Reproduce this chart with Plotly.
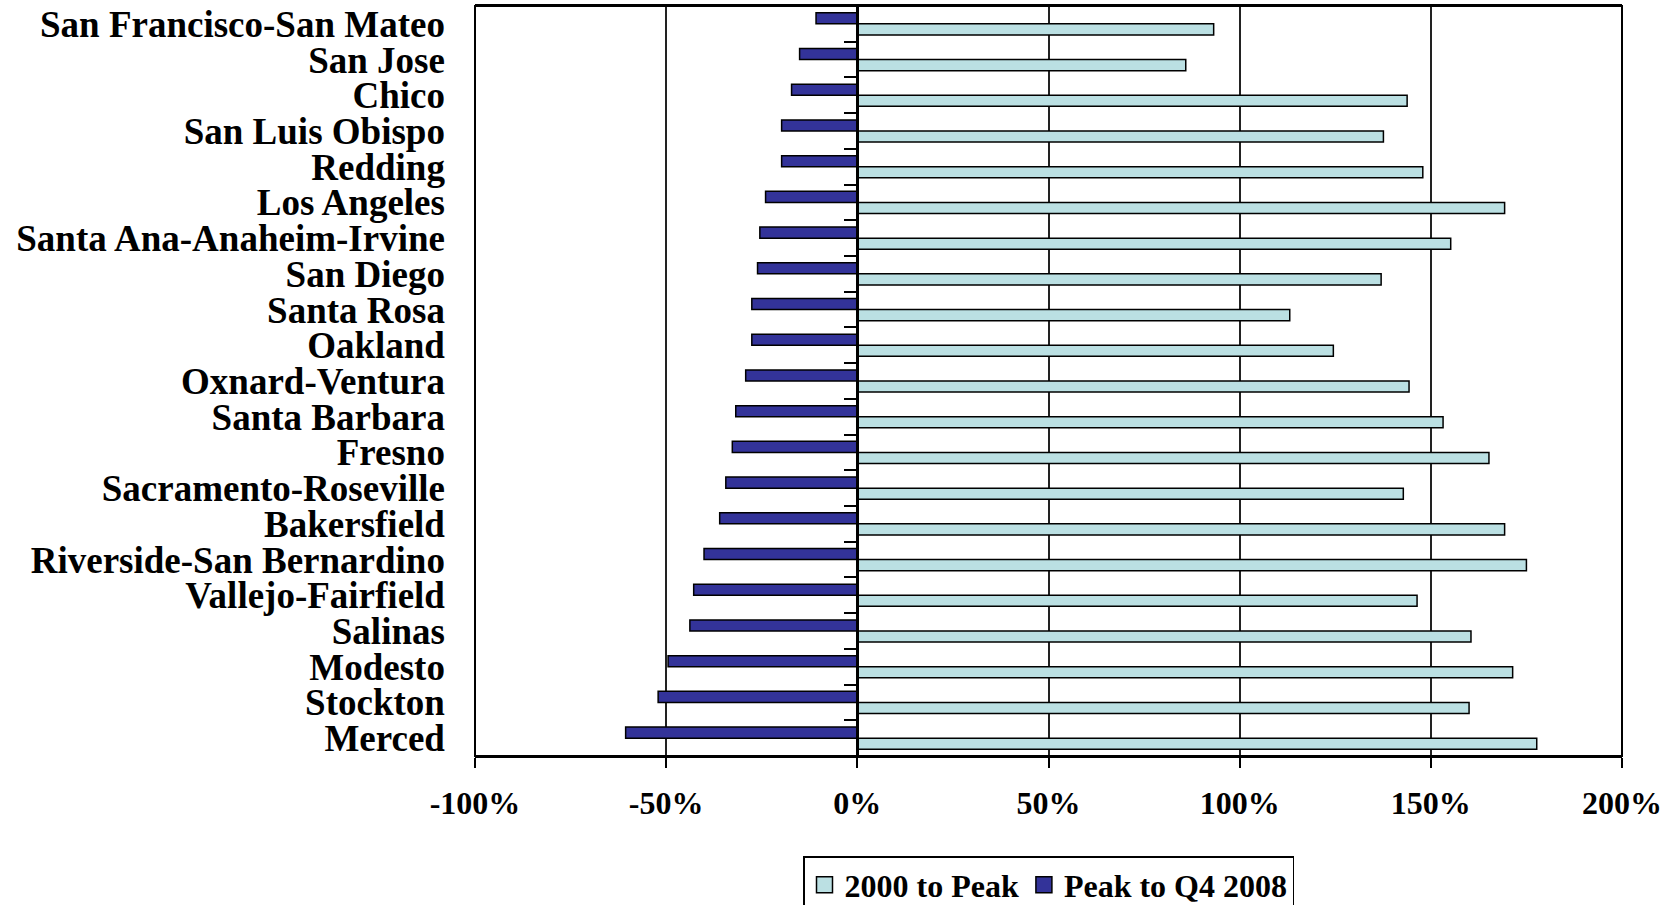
import plotly.graph_objects as go

# Metro areas, listed top to bottom
metros = [
    "San Francisco-San Mateo", "San Jose", "Chico", "San Luis Obispo", "Redding",
    "Los Angeles", "Santa Ana-Anaheim-Irvine", "San Diego", "Santa Rosa", "Oakland",
    "Oxnard-Ventura", "Santa Barbara", "Fresno", "Sacramento-Roseville", "Bakersfield",
    "Riverside-San Bernardino", "Vallejo-Fairfield", "Salinas", "Modesto", "Stockton",
    "Merced",
]

# Home price change, percent
rise_2000_to_peak = [
    93.2, 85.9, 143.8, 137.6, 147.9,
    169.3, 155.2, 137.0, 113.1, 124.5,
    144.3, 153.2, 165.2, 142.8, 169.3,
    175.0, 146.4, 160.5, 171.4, 160.0,
    177.7,
]
fall_peak_to_q4_2008 = [
    -10.8, -15.1, -17.2, -19.8, -19.8,
    -24.0, -25.5, -26.1, -27.6, -27.6,
    -29.2, -31.8, -32.7, -34.4, -36.0,
    -40.1, -42.8, -43.8, -49.5, -52.1,
    -60.6,
]

series_names = ["2000 to Peak", "Peak to Q4 2008"]
x_tickvals = [-100, -50, 0, 50, 100, 150, 200]
x_ticktext = ["-100%", "-50%", "0%", "50%", "100%", "150%", "200%"]

LIGHT = "#BBE0E3"
DARK = "#333399"
SERIF = "Liberation Serif, Times New Roman, serif"
LABEL_FONT = dict(family=SERIF, size=37, color="black", weight="bold")
TICK_FONT = dict(family=SERIF, size=32, color="black", weight="bold")

x_range = [x_tickvals[0], x_tickvals[-1]]
n = len(metros)

fig = go.Figure()
for name, vals, color in [(series_names[0], rise_2000_to_peak, LIGHT),
                          (series_names[1], fall_peak_to_q4_2008, DARK)]:
    fig.add_trace(go.Bar(
        name=name, y=metros, x=vals, orientation="h", showlegend=False,
        marker=dict(color=color, line=dict(color="black", width=1.5)),
    ))
# legend keys drawn as larger outlined squares
for name, color in [(series_names[0], LIGHT), (series_names[1], DARK)]:
    fig.add_trace(go.Scatter(
        name=name, x=[None], y=[None], mode="markers", hoverinfo="skip",
        marker=dict(symbol="square", size=16, color=color,
                    line=dict(color="black", width=1.5)),
    ))

# fraction of the plot width where the zero line sits
zero_pos = (0 - x_range[0]) / (x_range[1] - x_range[0])

fig.update_layout(
    width=1678, height=905,
    margin=dict(l=475, r=56, t=6, b=149, autoexpand=False),
    paper_bgcolor="white", plot_bgcolor="white",
    barmode="group", bargap=0.38, bargroupgap=0,
    showlegend=True,
    legend=dict(
        orientation="h", xref="paper", x=0.5, xanchor="center",
        yref="container", y=1 - 856 / 905, yanchor="top",
        font=TICK_FONT, bgcolor="white", bordercolor="black", borderwidth=1.5,
        itemwidth=30, itemsizing="trace", tracegroupgap=0,
    ),
    xaxis=dict(
        range=x_range, tickvals=x_tickvals, ticktext=x_ticktext,
        tickfont=TICK_FONT, ticks="outside", ticklen=10, tickwidth=2, tickcolor="black",
        ticklabelstandoff=8,
        showgrid=True, gridcolor="#222222", gridwidth=2,
        zeroline=True, zerolinecolor="black", zerolinewidth=3,
        showline=True, linecolor="black", linewidth=2, mirror=True,
        automargin=False, fixedrange=True,
    ),
    # category axis sits on the zero line; its labels are pushed out to the left
    yaxis=dict(
        type="category", categoryorder="array", categoryarray=metros[::-1],
        range=[-0.5, n - 0.5], tickmode="linear", tick0=0, dtick=1,
        anchor="free", position=zero_pos, side="left",
        tickfont=LABEL_FONT, ticks="outside", ticklen=12, tickwidth=2,
        tickcolor="black", tickson="boundaries", ticklabelstandoff=404,
        showgrid=False, showline=True, linecolor="black", linewidth=3,
        automargin=False, fixedrange=True,
    ),
    # plot-area frame
    shapes=[dict(type="rect", xref="paper", yref="paper", x0=0, y0=0, x1=1, y1=1,
                 line=dict(color="black", width=2), layer="above")],
)

fig.write_html("out.html")
